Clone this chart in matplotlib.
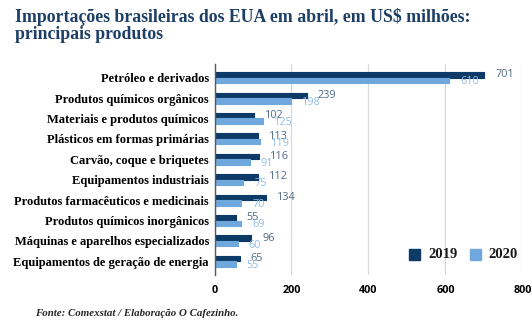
import numpy as np
import matplotlib.pyplot as plt
from matplotlib.patches import Rectangle

categorias = [
    "Petróleo e derivados",
    "Produtos químicos orgânicos",
    "Materiais e produtos químicos",
    "Plásticos em formas primárias",
    "Carvão, coque e briquetes",
    "Equipamentos industriais",
    "Produtos farmacêuticos e medicinais",
    "Produtos químicos inorgânicos",
    "Máquinas e aparelhos especializados",
    "Equipamentos de geração de energia",
]
v2019 = [701, 239, 102, 113, 116, 112, 134, 55, 96, 65]
v2020 = [610, 198, 125, 119, 91, 75, 70, 69, 60, 55]
xticks = [0, 200, 400, 600, 800]

cor19 = "#0d3a66"
cor20 = "#6fa8dc"
txt19 = "#4f6a88"
txt20 = "#93bde6"

fig = plt.figure(figsize=(5.32, 3.26), dpi=100)
ax = fig.add_axes([0.4032, 0.1564, 0.5789, 0.6473])

y = np.arange(len(categorias))
h = 0.27
ax.barh(y - h / 2, v2019, height=h, color=cor19, edgecolor=cor19,
        linewidth=0.8, joinstyle="round", zorder=3)
ax.barh(y + h / 2, v2020, height=h, color=cor20, edgecolor=cor20,
        linewidth=0.8, joinstyle="round", zorder=3)

# rótulos de valor ao fim de cada barra
for i in range(len(categorias)):
    ax.annotate(str(v2019[i]), (v2019[i], y[i] - h / 2), xytext=(8, 0),
                textcoords="offset points", ha="left", va="center",
                fontsize=7.8, color=txt19, family="Open Sans", zorder=4)
    ax.annotate(str(v2020[i]), (v2020[i], y[i] + h / 2), xytext=(8, -1),
                textcoords="offset points", ha="left", va="center",
                fontsize=7.8, color=txt20, family="Open Sans", zorder=4)

ax.set_xlim(0, 800)
ax.set_ylim(len(categorias) - 0.33, -0.67)
ax.set_xticks(xticks)
ax.set_xticklabels([str(t) for t in xticks], fontsize=7.8, fontweight="bold",
                   family="Open Sans")
ax.set_yticks(y)
ax.set_yticklabels(categorias, fontsize=9, fontweight="bold",
                   family="Liberation Serif")
ax.tick_params(axis="y", length=0, pad=4)
ax.tick_params(axis="x", length=0, pad=7)
ax.grid(axis="x", color="#d9d9d9", linewidth=0.9, zorder=0)
for s in ["top", "right", "bottom"]:
    ax.spines[s].set_visible(False)
ax.spines["left"].set_color("#595959")
ax.spines["left"].set_linewidth(1.0)
ax.spines["left"].set_zorder(5)

# legenda
fig.patches.append(Rectangle((409 / 532, 1 - 260 / 326), 11 / 532, 11 / 326,
                             transform=fig.transFigure, color=cor19))
fig.text(428 / 532, 1 - 254 / 326, "2019", fontsize=10.5, fontweight="bold",
         family="Liberation Serif", va="center", color="#1a1a1a")
fig.patches.append(Rectangle((470 / 532, 1 - 260 / 326), 11 / 532, 11 / 326,
                             transform=fig.transFigure, color=cor20))
fig.text(488 / 532, 1 - 254 / 326, "2020", fontsize=10.5, fontweight="bold",
         family="Liberation Serif", va="center", color="#1a1a1a")

fig.text(15 / 532, 1 - 8 / 326,
         "Importações brasileiras dos EUA em abril, em US$ milhões:\nprincipais produtos",
         fontsize=12.8, fontweight="bold", family="Liberation Serif",
         color="#1d3f66", va="top", ha="left", linespacing=1.0)
fig.text(35 / 532, 1 - 313 / 326, "Fonte: Comexstat / Elaboração O Cafezinho.",
         fontsize=7.8, fontweight="bold", style="italic",
         family="Liberation Serif", color="#262626", va="center", ha="left")

fig.savefig("out.png", dpi=100)
